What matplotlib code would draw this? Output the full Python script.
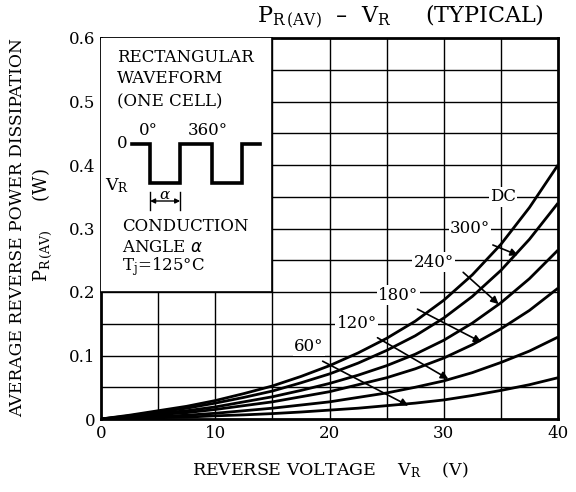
import numpy as np
import matplotlib
matplotlib.use("Agg")
import matplotlib.pyplot as plt

plt.rcParams['font.family'] = ['DejaVu Serif']
plt.rcParams['mathtext.default'] = 'regular'

# reverse voltage (V)
vr = [0, 2.5, 5, 7.5, 10, 12.5, 15, 17.5, 20, 22.5, 25, 27.5, 30, 32.5, 35, 37.5, 40]

# average reverse power dissipation (W)
p_dc = [0, 0.006, 0.013, 0.020, 0.029, 0.040, 0.052, 0.067, 0.084, 0.104, 0.127, 0.154, 0.187, 0.227, 0.275, 0.333, 0.400]
p_300 = [0, 0.005, 0.011, 0.017, 0.025, 0.034, 0.044, 0.057, 0.071, 0.088, 0.108, 0.131, 0.159, 0.193, 0.234, 0.283, 0.340]
p_240 = [0, 0.004, 0.009, 0.013, 0.019, 0.027, 0.035, 0.045, 0.056, 0.069, 0.084, 0.102, 0.124, 0.151, 0.183, 0.221, 0.266]
p_180 = [0, 0.003, 0.007, 0.010, 0.015, 0.021, 0.027, 0.035, 0.043, 0.054, 0.065, 0.079, 0.096, 0.117, 0.142, 0.171, 0.206]
p_120 = [0, 0.002, 0.004, 0.006, 0.009, 0.013, 0.017, 0.022, 0.027, 0.034, 0.041, 0.050, 0.060, 0.073, 0.089, 0.107, 0.129]
p_60 = [0, 0.001, 0.002, 0.003, 0.005, 0.0065, 0.0085, 0.011, 0.014, 0.017, 0.021, 0.025, 0.030, 0.037, 0.045, 0.054, 0.065]

curves = [p_dc, p_300, p_240, p_180, p_120, p_60]
curve_labels = ['DC', '300°', '240°', '180°', '120°', '60°']
# label position, arrow start, arrow end (None = no arrow)
label_pos = [(35.2, 0.350), (32.3, 0.300), (29.1, 0.247), (26.0, 0.195), (22.4, 0.150), (18.2, 0.114)]
arrow_from = [None, (34.3, 0.274), (31.7, 0.231), (27.7, 0.173), (24.2, 0.128), (19.4, 0.091)]
arrow_to = [None, (36.5, 0.258), (34.8, 0.181), (33.3, 0.121), (30.4, 0.063), (26.9, 0.021)]

x_ticks = [0, 10, 20, 30, 40]
y_ticks = [0, 0.1, 0.2, 0.3, 0.4, 0.5, 0.6]
y_ticklabels = ['0', '0.1', '0.2', '0.3', '0.4', '0.5', '0.6']

fs = 12

fig = plt.figure(figsize=(5.76, 4.92), dpi=100)
ax = fig.add_axes([101/576, 1 - 419/492, 457/576, 381/492])
ax.set_xlim(0, 40)
ax.set_ylim(0, 0.6)

# grid every 5 V / 0.05 W
for gx in np.arange(5, 40, 5):
    ax.axvline(gx, color='black', lw=1.0, zorder=1)
for gy in np.arange(0.05, 0.6, 0.05):
    ax.axhline(gy, color='black', lw=1.0, zorder=1)

for sp in ax.spines.values():
    sp.set_linewidth(2.0)

ax.set_xticks(x_ticks)
ax.set_xticklabels([str(t) for t in x_ticks], fontsize=fs)
ax.set_yticks(y_ticks)
ax.set_yticklabels(y_ticklabels, fontsize=fs)
ax.tick_params(length=0, pad=4)

for ys in curves:
    ax.plot(vr, ys, color='black', lw=2.0, zorder=3, solid_capstyle='butt',
            solid_joinstyle='round')

for lab, pos, a0, a1 in zip(curve_labels, label_pos, arrow_from, arrow_to):
    ax.text(pos[0], pos[1], lab, fontsize=fs, ha='center', va='center', zorder=4,
            bbox=dict(fc='white', ec='none', pad=1.0))
    if a0 is not None:
        ax.annotate('', xy=a1, xytext=a0, zorder=5,
                    arrowprops=dict(arrowstyle='-|>', color='black', lw=1.2,
                                    mutation_scale=11, shrinkA=0, shrinkB=0))

# inset box with waveform sketch (coordinates in pixel offsets)
ins = ax.inset_axes([0, 0.2/0.6, 15/40, 0.4/0.6])
ins.set_zorder(6)
ins.set_facecolor('white')
ins.set_xlim(0, 171)
ins.set_ylim(254, 0)
ins.set_xticks([])
ins.set_yticks([])
for sp in ins.spines.values():
    sp.set_linewidth(1.2)
    sp.set_color('black')
ins.spines['left'].set_visible(False)
ins.spines['top'].set_visible(False)

ins.text(16, 20, 'RECTANGULAR', fontsize=fs, va='center', ha='left')
ins.text(16, 41, 'WAVEFORM', fontsize=fs, va='center', ha='left')
ins.text(16, 64, '(ONE CELL)', fontsize=fs, va='center', ha='left')

wx = [31, 49, 49, 79, 79, 111, 111, 141, 141, 159]
wy = [106, 106, 145, 145, 106, 106, 145, 145, 106, 106]
ins.plot(wx, wy, color='black', lw=2.6, solid_joinstyle='miter')
ins.text(26, 106, '0', fontsize=fs, va='center', ha='right')
ins.text(47, 93, '0°', fontsize=fs, va='center', ha='center')
ins.text(107, 93, '360°', fontsize=fs, va='center', ha='center')
ins.text(4, 148, '$V_R$', fontsize=fs + 0.5, va='center', ha='left')
ins.plot([49, 49], [154, 172], color='black', lw=1.0)
ins.plot([79, 79], [154, 172], color='black', lw=1.0)
ins.annotate('', xy=(79, 163), xytext=(49, 163),
             arrowprops=dict(arrowstyle='<|-|>', color='black', lw=1.0,
                             mutation_scale=7, shrinkA=0, shrinkB=0))
ins.text(64, 157, r'$\alpha$', fontsize=fs - 1, va='center', ha='center', style='italic')

ins.text(21, 189, 'CONDUCTION', fontsize=fs, va='center', ha='left')
ins.text(21, 210, r'ANGLE $\mathit{\alpha}$', fontsize=fs, va='center', ha='left')
ins.text(21, 229, '$T_j$=125°C', fontsize=fs, va='center', ha='left')

fig.text(400/576, 1 - 17/492, r'$P_{R\,(AV)}$  –  $V_R$     (TYPICAL)', fontsize=16,
         ha='center', va='center')
fig.text(330/576, 1 - 470/492, r'REVERSE VOLTAGE    $V_R$    (V)', fontsize=12.5,
         ha='center', va='center')
fig.text(18/576, 1 - 228/492, 'AVERAGE REVERSE POWER DISSIPATION', fontsize=12.3,
         ha='center', va='center', rotation=90)
fig.text(42/576, 1 - 225/492, r'$P_{R\,(AV)}$     (W)', fontsize=13,
         ha='center', va='center', rotation=90)

fig.savefig('out.png', dpi=100)
